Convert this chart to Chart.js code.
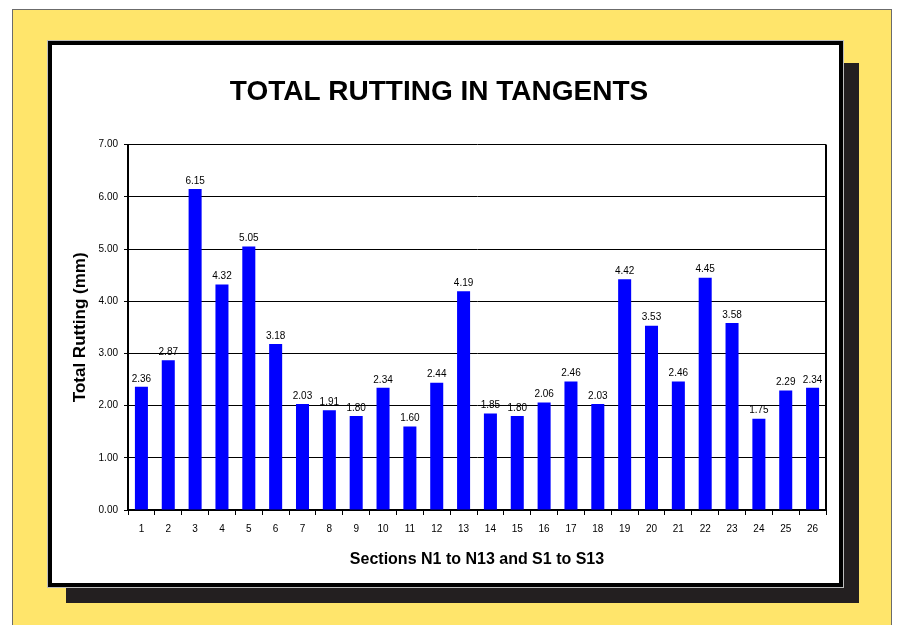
<!DOCTYPE html>
<html>
<head>
<meta charset="utf-8">
<script src="https://cdn.jsdelivr.net/npm/chart.js@4/dist/chart.umd.min.js"></script>
<style>
  html, body { margin: 0; padding: 0; background: #fff; width: 897px; height: 625px; overflow: hidden; }
  #yellow { position: absolute; left: 12px; top: 9px; width: 878px; height: 630px; background: #ffe56b; border: 1px solid #6b6b6b; }
  #shadow { position: absolute; left: 66px; top: 63px; width: 793px; height: 540px; background: #231f20; }
  #panel { position: absolute; left: 48px; top: 41px; width: 795px; height: 546px; box-sizing: border-box; background: #fff; border: 4px solid #000; box-shadow: 0 0 0 1px #bdbdbd; }
  #wrap { position: absolute; left: 52px; top: 45px; width: 787px; height: 538px; }
</style>
</head>
<body>
<div id="yellow"></div>
<div id="shadow"></div>
<div id="panel"></div>
<div id="wrap"><canvas id="c" width="787" height="538"></canvas></div>
<script>
const sections = ["1", "2", "3", "4", "5", "6", "7", "8", "9", "10", "11", "12", "13",
  "14", "15", "16", "17", "18", "19", "20", "21", "22", "23", "24", "25", "26"]
const rutting = [2.36, 2.87, 6.15, 4.32, 5.05, 3.18, 2.03, 1.91, 1.80, 2.34, 1.60, 2.44, 4.19,
  1.85, 1.80, 2.06, 2.46, 2.03, 4.42, 3.53, 2.46, 4.45, 3.58, 1.75, 2.29, 2.34]

const FONT = "Arial, 'Liberation Sans', sans-serif"

// value labels above each bar
const barLabels = {
  id: "barLabels",
  afterDatasetsDraw(chart) {
    const ctx = chart.ctx
    const meta = chart.getDatasetMeta(0)
    ctx.save()
    ctx.font = "10px " + FONT
    ctx.fillStyle = "#000"
    ctx.textAlign = "center"
    ctx.textBaseline = "bottom"
    meta.data.forEach((bar, i) => {
      ctx.fillText(rutting[i].toFixed(2), bar.x, bar.y - 3)
    })
    ctx.restore()
  }
}

// right edge of the plot frame
const plotFrame = {
  id: "plotFrame",
  afterDraw(chart) {
    const { ctx, chartArea: a } = chart
    ctx.save()
    ctx.strokeStyle = "#000"
    ctx.lineWidth = 2
    ctx.beginPath()
    ctx.moveTo(a.right, a.top)
    ctx.lineTo(a.right, a.bottom)
    ctx.stroke()
    ctx.restore()
  }
}

new Chart(document.getElementById("c"), {
  type: "bar",
  data: {
    labels: sections,
    datasets: [{
      data: rutting,
      backgroundColor: "#0000ff",
      borderWidth: 0,
      barPercentage: 0.5,
      categoryPercentage: 0.97
    }]
  },
  options: {
    responsive: false,
    animation: false,
    layout: { padding: { left: 0, right: 13, top: 0, bottom: 8 } },
    plugins: {
      legend: { display: false },
      tooltip: { enabled: false },
      title: {
        display: true,
        text: "TOTAL RUTTING IN TANGENTS",
        color: "#000",
        font: { family: FONT, size: 28, weight: "bold", lineHeight: 1.2 },
        padding: { top: 30, bottom: 36 }
      }
    },
    scales: {
      x: {
        grid: { drawOnChartArea: false, drawTicks: true, tickLength: 5, color: "#000", offset: true },
        border: { color: "#000", width: 2 },
        ticks: { color: "#000", font: { family: FONT, size: 10 }, padding: 8, maxRotation: 0, autoSkip: false },
        title: {
          display: true,
          text: "Sections N1 to N13 and S1 to S13",
          color: "#000",
          font: { family: FONT, size: 16, weight: "bold" },
          padding: { top: 0, bottom: 6 }
        },
        afterFit(s) { s.height = 65 }
      },
      y: {
        min: 0,
        max: 7,
        grid: { color: "#000", lineWidth: 1, tickLength: 4 },
        border: { color: "#000", width: 2 },
        ticks: { stepSize: 1, color: "#000", font: { family: FONT, size: 10 }, padding: 6,
          callback: v => v.toFixed(2) },
        title: {
          display: true,
          text: "Total Rutting (mm)",
          color: "#000",
          font: { family: FONT, size: 17, weight: "bold" },
          padding: { top: 18, bottom: 0 }
        },
        afterFit(s) { s.width = 76 }
      }
    }
  },
  plugins: [barLabels, plotFrame]
})
</script>
</body>
</html>
